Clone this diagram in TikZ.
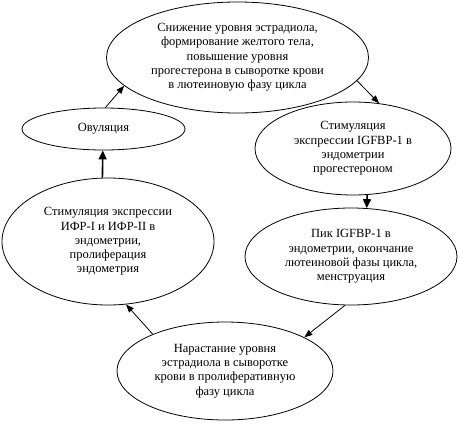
\documentclass[tikz,border=0pt]{standalone}
\usepackage{fontspec}
\setmainfont{Liberation Serif}
\usetikzlibrary{arrows.meta,shapes.geometric}

\begin{document}
\begin{tikzpicture}[x=1pt,y=-1pt,
  font=\fontsize{12.5}{14.3}\selectfont,
  el/.style={ellipse,draw,line width=0.8pt,inner sep=0pt,align=center},
  ar/.style={-{Triangle[length=8pt,width=6pt]},line width=0.8pt},
  arb/.style={-{Triangle[length=9pt,width=8pt]},line width=1.6pt}]
\useasboundingbox (0,0) rectangle (458,426);
% stages of the cycle
\node[el,minimum width=262pt,minimum height=111pt] (estr) at (237.5,57.5)
  {Снижение уровня эстрадиола,\\формирование желтого тела,\\повышение уровня\\прогестерона в сыворотке крови\\в лютеиновую фазу цикла};
\node[el,minimum width=196pt,minimum height=93pt] (igf) at (353,148.5)
  {Стимуляция\\экспрессии IGFBP-1 в\\эндометрии\\прогестероном};
\node[el,minimum width=212pt,minimum height=97pt] (pik) at (351,256.5)
  {Пик IGFBP-1 в\\эндометрии, окончание\\лютеиновой фазы цикла,\\менструация};
\node[el,minimum width=216pt,minimum height=98pt] (rost) at (225,371)
  {Нарастание уровня\\эстрадиола в сыворотке\\крови в пролиферативную\\фазу цикла};
\node[el,minimum width=212pt,minimum height=127pt] (ifr) at (108,241.5)
  {Стимуляция экспрессии\\ИФР-I и ИФР-II в\\эндометрии,\\пролиферация\\эндометрия};
\node[el,minimum width=163pt,minimum height=42pt] (ovul) at (103.5,129) {Овуляция};
% arrows
\draw[ar] (ovul.85) -- (estr.194);
\draw[ar] (estr.349) -- (igf.60);
\draw[arb] (igf.287) -- (pik.72);
\draw[ar] (pik.263) -- (rost.23);
\draw[ar] (rost.153) -- (ifr.286);
\draw[arb] (ifr.95) -- (ovul.268);
\end{tikzpicture}
\end{document}
